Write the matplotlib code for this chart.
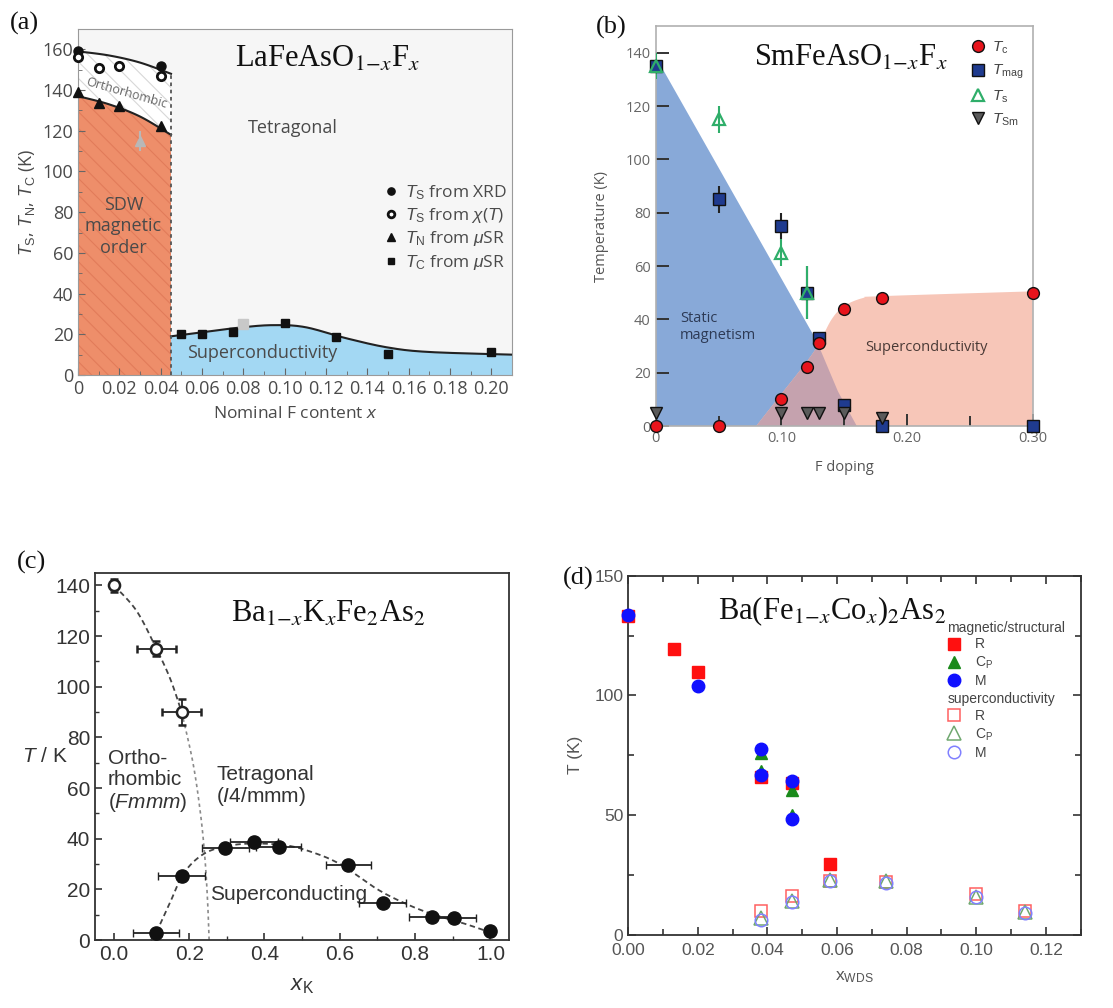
import numpy as np
import matplotlib
matplotlib.use("Agg")
import matplotlib.pyplot as plt
from matplotlib.ticker import MultipleLocator, FixedLocator, FixedFormatter, FormatStrFormatter

plt.rcParams['mathtext.fontset'] = 'custom'
plt.rcParams['mathtext.rm'] = 'Liberation Sans'
plt.rcParams['mathtext.it'] = 'Liberation Sans:italic'
plt.rcParams['mathtext.bf'] = 'Liberation Sans:bold'
plt.rcParams['font.family'] = ['Liberation Sans', 'DejaVu Sans']
plt.rcParams['hatch.linewidth'] = 0.8

# ---------------- Panel (a) data: LaFeAsO1-xFx ----------------
a_ts_xrd_x = [0.0, 0.04]
a_ts_xrd_y = [159, 152]
a_ts_chi_x = [0.0, 0.01, 0.02, 0.04]
a_ts_chi_y = [156, 151, 152, 147]
a_tn_x = [0.0, 0.01, 0.02, 0.04]
a_tn_y = [139, 133.5, 132, 122.5]
a_tc_x = [0.05, 0.06, 0.075, 0.10, 0.125, 0.15, 0.20]
a_tc_y = [20, 20, 21, 25.5, 18.5, 10.5, 11.5]
a_gray_tri = (0.03, 115)
a_gray_sq = (0.08, 25)
# boundaries
a_bnd_ts_x = [0.0, 0.015, 0.03, 0.045]
a_bnd_ts_y = [159, 157, 153.5, 148]
a_bnd_tn_x = [0.0, 0.015, 0.03, 0.045]
a_bnd_tn_y = [137, 133, 127, 118]
a_bnd_sc_x = [0.045, 0.06, 0.08, 0.095, 0.11, 0.13, 0.15, 0.17, 0.21]
a_bnd_sc_y = [19, 21, 23.5, 24.5, 23.5, 18, 13.5, 11.3, 10]
a_xticks = [0, 0.02, 0.04, 0.06, 0.08, 0.10, 0.12, 0.14, 0.16, 0.18, 0.20]
a_xticklabels = ['0', '0.02', '0.04', '0.06', '0.08', '0.10', '0.12', '0.14', '0.16', '0.18', '0.20']

# ---------------- Panel (b) data: SmFeAsO1-xFx ----------------
b_tc_x = [0.0, 0.05, 0.10, 0.12, 0.13, 0.15, 0.18, 0.30]
b_tc_y = [0, 0, 10, 22, 31, 44, 48, 50]
b_tmag_x = [0.0, 0.05, 0.10, 0.12, 0.13, 0.15, 0.18, 0.30]
b_tmag_y = [135, 85, 75, 50, 33, 8, 0, 0]
b_tmag_err = [0, 5, 5, 10, 0, 0, 0, 0]
b_ts_x = [0.0, 0.05, 0.10, 0.12]
b_ts_y = [135, 115, 65, 50]
b_ts_err = [5, 5, 5, 10]
b_tsm_x = [0.0, 0.10, 0.12, 0.13, 0.15, 0.18]
b_tsm_y = [5, 5, 5, 5, 5, 3]
b_mag_bx = [0.0, 0.003, 0.128, 0.145, 0.16]
b_mag_by = [136, 136, 32, 13, 0]
b_sc_bx = [0.08, 0.10, 0.12, 0.13, 0.14, 0.15, 0.165, 0.18, 0.30]
b_sc_by = [0, 12, 24, 31, 40, 45, 48, 48.7, 50.5]

# ---------------- Panel (c) data: Ba1-xKxFe2As2 ----------------
c_ts_x = [0.0, 0.113, 0.18]
c_ts_y = [140, 115, 90]
c_ts_xerr = [0.0, 0.051, 0.052]
c_ts_yerr = [2.5, 3, 5]
c_tc_x = [0.113, 0.18, 0.296, 0.372, 0.438, 0.623, 0.714, 0.845, 0.902, 1.0]
c_tc_y = [2.6, 25.3, 36.3, 38.6, 36.8, 29.7, 14.5, 9.0, 8.7, 3.7]
c_tc_xerr = [0.061, 0.062, 0.062, 0.063, 0.06, 0.061, 0.062, 0.062, 0.06, 0.0]
c_bnd_ts_x = [0.0, 0.06, 0.113, 0.15, 0.18, 0.21, 0.23, 0.242, 0.249, 0.253]
c_bnd_ts_y = [140, 130, 115, 103, 90, 70, 50, 32, 15, 0]
c_bnd_tc_x = [0.113, 0.15, 0.18, 0.22, 0.27, 0.35, 0.45, 0.52, 0.6, 0.7, 0.78, 0.85, 0.93, 1.0]
c_bnd_tc_y = [3, 15, 25, 32, 36, 38, 37.5, 35, 30, 20, 14, 10, 6.5, 3]

# ---------------- Panel (d) data: Ba(Fe1-xCox)2As2 ----------------
d_r_x = [0.0, 0.013, 0.02, 0.038, 0.047, 0.058]
d_r_y = [133, 119.5, 110, 66, 63.5, 29.6]
d_cp_x = [0.038, 0.038, 0.047, 0.047]
d_cp_y = [76, 68.5, 60.5, 50]
d_m_x = [0.0, 0.02, 0.038, 0.038, 0.047, 0.047]
d_m_y = [133.5, 104, 77.6, 66.6, 64.2, 48.3]
d_rsc_x = [0.038, 0.047, 0.058, 0.074, 0.10, 0.114]
d_rsc_y = [10.2, 16.3, 22.7, 22.3, 17.1, 10.2]
d_cpsc_x = [0.038, 0.047, 0.058, 0.074, 0.10, 0.114]
d_cpsc_y = [7.2, 14.3, 22.8, 22.6, 16.0, 9.4]
d_msc_x = [0.038, 0.047, 0.058, 0.074, 0.10, 0.114]
d_msc_y = [6.3, 13.9, 22.5, 21.6, 16.0, 9.0]


def smooth(xs, ys, n=24):
    pts = np.column_stack([xs, ys]).astype(float)
    p = np.vstack([pts[0], pts, pts[-1]])
    out = []
    t = np.linspace(0, 1, n, endpoint=False)[:, None]
    for i in range(1, len(p) - 2):
        p0, p1, p2, p3 = p[i - 1], p[i], p[i + 1], p[i + 2]
        seg = 0.5 * ((2 * p1) + (-p0 + p2) * t + (2 * p0 - 5 * p1 + 4 * p2 - p3) * t ** 2
                     + (-p0 + 3 * p1 - 3 * p2 + p3) * t ** 3)
        out.append(seg)
    out.append(pts[-1][None, :])
    s = np.vstack(out)
    return s[:, 0], s[:, 1]


W, H = 1113, 1008
fig = plt.figure(figsize=(W / 100, H / 100), dpi=100)

# ======================= (a) =======================
axa = fig.add_axes([78 / W, 1 - 375 / H, 434 / W, 346 / H])
asans = 'Open Sans'
tcol = '#4a4a4a'
axa.set_facecolor('#f6f6f6')
axa.set_xlim(0, 0.21)
axa.set_ylim(0, 170)
tsx, tsy = smooth(a_bnd_ts_x, a_bnd_ts_y)
tnx, tny = smooth(a_bnd_tn_x, a_bnd_tn_y)
scx, scy = smooth(a_bnd_sc_x, a_bnd_sc_y)
axa.fill_between(tnx, 0, tny, facecolor='#ee8e6a', edgecolor='#e27c5a', hatch='\\\\', linewidth=0, zorder=1)
axa.fill_between(tsx, np.interp(tsx, tnx, tny), tsy, facecolor='white', edgecolor='#d8d8d8',
                 hatch='\\\\', linewidth=0, zorder=1)
axa.fill_between(scx, 0, scy, facecolor='#a3d8f3', linewidth=0, zorder=1)
axa.plot(tsx, tsy, color='#222222', lw=1.5, zorder=3)
axa.plot(tnx, tny, color='#222222', lw=1.5, zorder=3)
axa.plot(scx, scy, color='#222222', lw=1.5, zorder=3)
axa.plot([0.045, 0.045], [0, 148], color='#555555', lw=1.3, ls=(0, (2, 2)), zorder=3)
axa.errorbar([a_gray_tri[0]], [a_gray_tri[1]], yerr=[5], fmt='^', color='#b8b8b8', ms=7, zorder=4)
axa.plot([a_gray_sq[0]], [a_gray_sq[1]], 's', color='#c8c8c8', ms=7, zorder=4)
h1, = axa.plot(a_ts_xrd_x, a_ts_xrd_y, 'o', color='#111111', ms=6.5, zorder=5, clip_on=False,
               label=r'$T_{\rm S}$ from XRD')
h2, = axa.plot(a_ts_chi_x, a_ts_chi_y, 'o', mfc='white', mec='#111111', mew=2, ms=6, zorder=5,
               clip_on=False, label=r'$T_{\rm S}$ from $\chi$($T$)')
h3, = axa.plot(a_tn_x, a_tn_y, '^', color='#111111', ms=7, zorder=5, clip_on=False,
               label=r'$T_{\rm N}$ from $\mu$SR')
h4, = axa.plot(a_tc_x, a_tc_y, 's', color='#111111', ms=6, zorder=5, clip_on=False,
               label=r'$T_{\rm C}$ from $\mu$SR')
leg = axa.legend(handles=[h1, h2, h3, h4], loc='upper left', bbox_to_anchor=(0.67, 0.60),
                 frameon=False, handlelength=0.8, handletextpad=0.4, labelspacing=0.25,
                 prop={'family': asans, 'size': 12.5}, markerscale=0.8)
for t in leg.get_texts():
    t.set_color(tcol)
axa.text(0.1038, 121.5, 'Tetragonal', family=asans, fontsize=13, color=tcol, ha='center', va='center')
axa.text(0.022, 73, 'SDW\nmagnetic\norder', family=asans, fontsize=13, color=tcol, ha='center',
         va='center', linespacing=1.25, zorder=6)
axa.text(0.089, 10.8, 'Superconductivity', family=asans, fontsize=13, color=tcol, ha='center',
         va='center', zorder=6)
axa.text(0.0235, 138.5, 'Orthorhombic', family=asans, fontsize=9, color='#666666', ha='center',
         va='center', rotation=-16, zorder=6)
axa.text(0.121, 155, r'LaFeAsO$_{1\!-\!x}$F$_x$', family='Liberation Serif', math_fontfamily='stix',
         fontsize=22, ha='center', va='center', color='#111111')
axa.xaxis.set_major_locator(FixedLocator(a_xticks))
axa.xaxis.set_major_formatter(FixedFormatter(a_xticklabels))
axa.xaxis.set_minor_locator(MultipleLocator(0.01))
axa.yaxis.set_major_locator(MultipleLocator(20))
axa.yaxis.set_minor_locator(MultipleLocator(10))
axa.tick_params(which='both', direction='in', colors='#666666', labelcolor=tcol, labelsize=13)
axa.tick_params(which='major', length=5)
axa.tick_params(which='minor', length=3)
for lab in axa.get_xticklabels() + axa.get_yticklabels():
    lab.set_family(asans)
for s in axa.spines.values():
    s.set_color('#9a9a9a')
axa.set_xlabel(r'Nominal F content $x$', family=asans, fontsize=12.5, color=tcol, labelpad=6)
axa.set_ylabel(r'$T_{\rm S}$, $T_{\rm N}$, $T_{\rm C}$ (K)', family=asans, fontsize=13, color=tcol, labelpad=4)

# ======================= (b) =======================
axb = fig.add_axes([655.7 / W, 1 - 426 / H, 377 / W, 400 / H])
axb.set_xlim(0, 0.30)
axb.set_ylim(0, 150)
mx = np.concatenate([[0.0], np.array(b_mag_bx, float)])
my = np.concatenate([[0.0], np.array(b_mag_by, float)])
sx, sy = smooth(b_sc_bx, b_sc_by, 12)
axb.fill_between(mx, 0, my, facecolor='#88a9d8', linewidth=0, zorder=1)
axb.fill_between(sx, 0, sy, facecolor='#f7c6b8', linewidth=0, zorder=1)
gx = np.linspace(min(b_sc_bx), max(b_mag_bx), 200)
ov = np.minimum(np.interp(gx, mx[1:], my[1:]), np.interp(gx, sx, sy))
axb.fill_between(gx, 0, ov, facecolor='#c5a2ae', linewidth=0, zorder=1)
axb.errorbar(b_tmag_x, b_tmag_y, yerr=b_tmag_err, fmt='none', ecolor='#222222', elinewidth=1.5, zorder=3)
axb.errorbar(b_ts_x, b_ts_y, yerr=b_ts_err, fmt='none', ecolor='#2fae6a', elinewidth=1.5, zorder=3)
hb2, = axb.plot(b_tmag_x, b_tmag_y, 's', mfc='#1f3b8f', mec='#111111', mew=1, ms=9, zorder=4,
                clip_on=False, ls='none', label=r'$T_{\rm mag}$')
hb4, = axb.plot(b_tsm_x, b_tsm_y, 'v', mfc='#5a5a5a', mec='#111111', mew=1, ms=8, zorder=4,
                clip_on=False, ls='none', label=r'$T_{\rm Sm}$')
hb1, = axb.plot(b_tc_x, b_tc_y, 'o', mfc='#e8141c', mec='#111111', mew=1, ms=8.5, zorder=5,
                clip_on=False, ls='none', label=r'$T_{\rm c}$')
hb3, = axb.plot(b_ts_x, b_ts_y, '^', mfc='none', mec='#2fae6a', mew=1.6, ms=9, zorder=6,
                clip_on=False, ls='none', label=r'$T_{\rm s}$')
legb = axb.legend(handles=[hb1, hb2, hb3, hb4], loc='upper left', bbox_to_anchor=(0.80, 1.0),
                  frameon=False, handlelength=0.9, handletextpad=0.5, labelspacing=0.45,
                  prop={'family': 'Open Sans', 'size': 11})
for t in legb.get_texts():
    t.set_color('#444444')
axb.text(0.0195, 37, 'Static\nmagnetism', family='Open Sans', fontsize=10.5, color='#2d3a55',
         ha='left', va='center', linespacing=1.2)
axb.text(0.2157, 29.6, 'Superconductivity', family='Open Sans', fontsize=10.5, color='#4a3a36',
         ha='center', va='center')
axb.text(0.1557, 138, r'SmFeAsO$_{1\!-\!x}$F$_x$', family='Liberation Serif', math_fontfamily='stix',
         fontsize=22, ha='center', va='center', color='#111111')
axb.xaxis.set_major_locator(FixedLocator([0, 0.10, 0.20, 0.30]))
axb.xaxis.set_major_formatter(FixedFormatter(['0', '0.10', '0.20', '0.30']))
axb.xaxis.set_minor_locator(FixedLocator([0.05, 0.15, 0.25]))
axb.yaxis.set_major_locator(MultipleLocator(20))
axb.tick_params(which='both', direction='in', color='#333333', labelcolor='#666666', labelsize=10.5, width=1.4)
axb.tick_params(which='major', length=9)
axb.tick_params(which='minor', length=7)
for lab in axb.get_xticklabels() + axb.get_yticklabels():
    lab.set_family('Open Sans')
for s in axb.spines.values():
    s.set_color('#b0b0b0')
    s.set_linewidth(1.2)
axb.set_xlabel('F doping', family='Open Sans', fontsize=10.5, color='#555555', labelpad=10)
axb.set_ylabel('Temperature (K)', family='Open Sans', fontsize=10.5, color='#555555', labelpad=12)

# ======================= (c) =======================
axc = fig.add_axes([95 / W, 1 - 940 / H, 414.3 / W, 367.3 / H])
axc.set_xlim(-0.05, 1.05)
axc.set_ylim(0, 145)
cx1, cy1 = smooth(c_bnd_ts_x[:5], c_bnd_ts_y[:5], 20)
cx2, cy2 = smooth(c_bnd_ts_x[4:], c_bnd_ts_y[4:], 20)
axc.plot(cx1, cy1, color='#444444', lw=1.3, ls=(0, (3, 2)), zorder=2)
axc.plot(cx2, cy2, color='#8a8a8a', lw=1.2, ls=(0, (2, 2)), zorder=2)
ccx, ccy = smooth(c_bnd_tc_x, c_bnd_tc_y, 20)
axc.plot(ccx, ccy, color='#444444', lw=1.3, ls=(0, (3, 2)), zorder=2)
axc.errorbar(c_ts_x, c_ts_y, xerr=c_ts_xerr, yerr=c_ts_yerr, fmt='o', mfc='white', mec='#222222',
             mew=1.8, ms=8, ecolor='#222222', elinewidth=1.3, capsize=3, zorder=4)
axc.errorbar(c_tc_x, c_tc_y, xerr=c_tc_xerr, fmt='o', color='#111111', ms=9.5, ecolor='#222222',
             elinewidth=1.3, capsize=3, zorder=4, clip_on=False)
axc.text(-0.016, 62.6, 'Ortho-\nrhombic\n(' + r'$\it{Fmmm}$' + ')', fontsize=15, color='#333333',
         ha='left', va='center', linespacing=1.1)
axc.text(0.272, 60.6, 'Tetragonal\n(' + r'$\it{I}$' + '4/mmm)', fontsize=15, color='#333333',
         ha='left', va='center', linespacing=1.1)
axc.text(0.256, 17.8, 'Superconducting', fontsize=15, color='#333333', ha='left', va='center')
axc.text(0.57, 128.5, r'Ba$_{1\!-\!x}$K$_x$Fe$_2$As$_2$', family='Liberation Serif',
         math_fontfamily='stix', fontsize=22, ha='center', va='center', color='#111111')
axc.xaxis.set_major_locator(FixedLocator([0.0, 0.2, 0.4, 0.6, 0.8, 1.0]))
axc.xaxis.set_major_formatter(FixedFormatter(['0.0', '0.2', '0.4', '0.6', '0.8', '1.0']))
axc.xaxis.set_minor_locator(MultipleLocator(0.1))
axc.yaxis.set_major_locator(MultipleLocator(20))
axc.yaxis.set_minor_locator(MultipleLocator(10))
axc.tick_params(which='both', direction='in', color='#333333', labelcolor='#333333', labelsize=15,
                bottom=True, left=True, top=False, right=False)
axc.tick_params(which='major', length=5, width=1.2)
axc.tick_params(which='minor', length=3, width=1.0)
for s in axc.spines.values():
    s.set_color('#333333')
    s.set_linewidth(1.3)
axc.set_xlabel(r'$x_{\rm K}$', fontsize=16, color='#333333', labelpad=8)
axc.set_ylabel(r'$T$ / K', fontsize=15, color='#333333', rotation=0, ha='center', va='center')
axc.yaxis.set_label_coords(-0.12, 0.5)

# ======================= (d) =======================
axd = fig.add_axes([628.3 / W, 1 - 935 / H, 452.4 / W, 359.3 / H])
axd.set_xlim(0, 0.13)
axd.set_ylim(0, 150)
hr, = axd.plot(d_r_x, d_r_y, 's', color='#ff1010', ms=8.5, ls='none', clip_on=False, zorder=3)
hcp, = axd.plot(d_cp_x, d_cp_y, '^', color='#1a8a1a', ms=9, ls='none', clip_on=False, zorder=4)
hm, = axd.plot(d_m_x, d_m_y, 'o', color='#1010ff', ms=9, ls='none', clip_on=False, zorder=5)
hrs, = axd.plot(d_rsc_x, d_rsc_y, 's', mfc='none', mec='#ff6060', mew=1.1, ms=8.5, ls='none', zorder=5)
hcps, = axd.plot(d_cpsc_x, d_cpsc_y, '^', mfc='none', mec='#70a870', mew=1.1, ms=9.5, ls='none', zorder=5)
hms, = axd.plot(d_msc_x, d_msc_y, 'o', mfc='none', mec='#8080ff', mew=1.1, ms=9, ls='none', zorder=5)
lab_r, lab_cp, lab_m = 'R', r'C$_{\rm P}$', 'M'
leg_kw = dict(alignment='left', loc='upper left', frameon=False, fontsize=10, title_fontsize=10,
              handlelength=1.0, handletextpad=1.0, labelspacing=0.22, borderaxespad=0, borderpad=0)
leg1 = axd.legend([hr, hcp, hm], [lab_r, lab_cp, lab_m], title='magnetic/structural',
                  bbox_to_anchor=(0.705, 0.875), **leg_kw)
leg1._legend_box.sep = 2
axd.add_artist(leg1)
leg2 = axd.legend([hrs, hcps, hms], [lab_r, lab_cp, lab_m], title='superconductivity',
                  bbox_to_anchor=(0.705, 0.675), **leg_kw)
leg2._legend_box.sep = 2
for lg in (leg1, leg2):
    lg.get_title().set_color('#444444')
    for t in lg.get_texts():
        t.set_color('#444444')
axd.text(0.0587, 135, r'Ba(Fe$_{1\!-\!x}$Co$_x$)$_2$As$_2$', family='Liberation Serif',
         math_fontfamily='stix', fontsize=22, ha='center', va='center', color='#111111')
axd.xaxis.set_major_locator(MultipleLocator(0.02))
axd.xaxis.set_minor_locator(MultipleLocator(0.01))
axd.yaxis.set_major_locator(MultipleLocator(50))
axd.yaxis.set_minor_locator(MultipleLocator(25))
axd.xaxis.set_major_formatter(FormatStrFormatter('%.2f'))
axd.tick_params(which='both', direction='in', top=True, right=True, color='#333333',
                labelcolor='#555555', labelsize=12.5, width=1.2)
axd.tick_params(axis='x', pad=6)
axd.tick_params(which='major', length=6)
axd.tick_params(which='minor', length=4)
for s in axd.spines.values():
    s.set_color('#333333')
    s.set_linewidth(1.3)
axd.set_xlabel(r'x$_{\rm WDS}$', fontsize=12.5, color='#555555', labelpad=8)
axd.set_ylabel('T (K)', fontsize=12.5, color='#555555', labelpad=8)

# panel labels
for lbl, px, py in [('(a)', 24, 23), ('(b)', 611, 27), ('(c)', 32, 562), ('(d)', 578, 578)]:
    fig.text(px / W, 1 - py / H, lbl, family='Liberation Serif', fontsize=19, ha='center', va='center',
             color='#111111')

fig.savefig('out.png', dpi=100)
